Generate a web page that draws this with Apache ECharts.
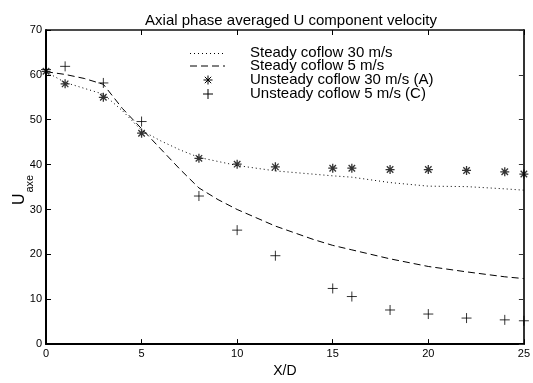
<!DOCTYPE html>
<html>
<head>
<meta charset="utf-8">
<script src="https://cdn.jsdelivr.net/npm/echarts@6/dist/echarts.min.js"></script>
<style>
html,body{margin:0;padding:0;background:#fff;}
#chart{width:533px;height:383px;}
</style>
</head>
<body>
<div id="chart"></div>
<script>
// Data
const xSteady30 = [0, 1, 2, 3, 4, 5, 6, 7, 8, 10, 12, 15, 16, 18, 20, 22, 24, 25];
const steady30  = [60.7, 58.3, 57.0, 55.7, 52.0, 47.6, 45.3, 43.3, 41.6, 39.8, 38.6, 37.5, 37.2, 36.0, 35.2, 35.1, 34.6, 34.3];
const xSteady5  = [0, 1, 2, 3, 4, 5, 6, 7, 8, 9, 10, 12, 14, 15, 16, 18, 20, 22, 24, 25];
const steady5   = [60.7, 60.1, 59.2, 57.9, 52.5, 48.0, 43.5, 39.0, 34.8, 32.2, 30.0, 26.3, 23.3, 22.0, 21.0, 19.0, 17.3, 16.1, 15.0, 14.6];
const xUnsteady = [0, 1, 3, 5, 8, 10, 12, 15, 16, 18, 20, 22, 24, 25];
const unsteady30A = [60.8, 58.0, 55.0, 47.0, 41.4, 40.1, 39.5, 39.2, 39.2, 38.9, 38.9, 38.7, 38.4, 37.9];
const unsteady5C  = [61.2, 61.9, 58.2, 49.6, 33.0, 25.4, 19.7, 12.4, 10.6, 7.6, 6.7, 5.8, 5.4, 5.2];
const xTicks = [0, 5, 10, 15, 20, 25];
const yTicks = [0, 10, 20, 30, 40, 50, 60, 70];
const legendNames = ['Steady coflow 30 m/s', 'Steady coflow 5 m/s', 'Unsteady coflow 30 m/s (A)', 'Unsteady coflow 5 m/s (C)'];
const titleText = 'Axial phase averaged U component velocity';

const FONT = '"Liberation Sans", Arial, Helvetica, sans-serif';
const pair = (xs, ys) => xs.map((x, i) => [x, ys[i]]);
const ASTERISK = 'path://M0,-5L0,5M-5,0L5,0M-3.6,-3.6L3.6,3.6M-3.6,3.6L3.6,-3.6';
const PLUS = 'path://M0,-5L0,5M-5,0L5,0';

const chart = echarts.init(document.getElementById('chart'), null, {renderer: 'canvas'});

const L = 46, R = 526, T = 30, B = 354;

const legendRows = [52.5, 66, 80, 94];
const legendGraphics = [];
legendNames.forEach((name, i) => {
  legendGraphics.push({
    type: 'text', x: 250, y: legendRows[i],
    style: {text: name, fontSize: 15, fontFamily: FONT, fill: '#000', align: 'left', verticalAlign: 'middle'}
  });
});
legendGraphics.push({type: 'line', shape: {x1: 190, y1: legendRows[0] + 1, x2: 225, y2: legendRows[0] + 1},
  style: {stroke: '#000', lineWidth: 1, lineDash: [1, 3]}});
legendGraphics.push({type: 'line', shape: {x1: 190, y1: legendRows[1], x2: 225, y2: legendRows[1]},
  style: {stroke: '#000', lineWidth: 1, lineDash: [7, 4]}});
[[0,-4.5,0,4.5],[-4.5,0,4.5,0],[-3.2,-3.2,3.2,3.2],[-3.2,3.2,3.2,-3.2]].forEach(s => {
  legendGraphics.push({type: 'line', shape: {x1: 208 + s[0], y1: legendRows[2] + s[1], x2: 208 + s[2], y2: legendRows[2] + s[3]},
    style: {stroke: '#000', lineWidth: 1}});
});
[[0,-5,0,5],[-5,0,5,0]].forEach(s => {
  legendGraphics.push({type: 'line', shape: {x1: 208 + s[0], y1: legendRows[3] + s[1], x2: 208 + s[2], y2: legendRows[3] + s[3]},
    style: {stroke: '#000', lineWidth: 1}});
});

const option = {
  animation: false,
  backgroundColor: '#fff',
  title: {
    text: titleText, left: (L + R) / 2, top: 8, textAlign: 'center',
    textStyle: {fontFamily: FONT, fontSize: 15, fontWeight: 'normal', color: '#000'}
  },
  grid: {left: L, right: 533 - R, top: T, bottom: 383 - B, containLabel: false},
  xAxis: [{
    type: 'value', min: 0, max: 25, interval: 5, position: 'bottom',
    name: 'X/D', nameLocation: 'middle', nameGap: 16,
    nameTextStyle: {fontFamily: FONT, fontSize: 14, color: '#000'},
    axisLine: {onZero: false, lineStyle: {color: '#000', width: 2}},
    axisTick: {inside: true, length: 5, lineStyle: {color: '#000', width: 1}},
    axisLabel: {fontFamily: FONT, fontSize: 11, color: '#000', margin: 4,
      formatter: v => xTicks.includes(v) ? String(v) : ''},
    splitLine: {show: false}
  }, {
    type: 'value', min: 0, max: 25, interval: 5, position: 'top',
    axisLine: {onZero: false, lineStyle: {color: '#111', width: 1.5}},
    axisTick: {inside: true, length: 5, lineStyle: {color: '#000', width: 1}},
    axisLabel: {show: false}, splitLine: {show: false}
  }],
  yAxis: [{
    type: 'value', min: 0, max: 70, interval: 10, position: 'left',
    axisLine: {onZero: false, lineStyle: {color: '#000', width: 2}},
    axisTick: {inside: true, length: 5, lineStyle: {color: '#000', width: 1}},
    axisLabel: {fontFamily: FONT, fontSize: 11, color: '#000', margin: 4,
      formatter: v => yTicks.includes(v) ? String(v) : ''},
    splitLine: {show: false}
  }, {
    type: 'value', min: 0, max: 70, interval: 10, position: 'right',
    axisLine: {onZero: false, lineStyle: {color: '#333', width: 2}},
    axisTick: {inside: true, length: 5, lineStyle: {color: '#333', width: 1}},
    axisLabel: {show: false}, splitLine: {show: false}
  }],
  graphic: [
    {
      type: 'group', x: 27.5, y: 205, rotation: Math.PI / 2,
      children: [
        {type: 'text', x: 0, y: 0, style: {text: 'U', fontSize: 16, fontFamily: FONT, fill: '#000', align: 'left', verticalAlign: 'bottom'}},
        {type: 'text', x: 12.5, y: 8, style: {text: 'axe', fontSize: 11, fontFamily: FONT, fill: '#000', align: 'left', verticalAlign: 'bottom'}}
      ]
    },
    ...legendGraphics
  ],
  series: [{
    name: legendNames[0], type: 'line', data: pair(xSteady30, steady30),
    showSymbol: false, symbol: 'none', smooth: false,
    lineStyle: {color: '#000', width: 1, type: [1, 3]}
  }, {
    name: legendNames[1], type: 'line', data: pair(xSteady5, steady5),
    showSymbol: false, symbol: 'none', smooth: false,
    lineStyle: {color: '#000', width: 1, type: [7, 4]}
  }, {
    name: legendNames[2], type: 'scatter', data: pair(xUnsteady, unsteady30A),
    symbol: ASTERISK, symbolSize: 9, clip: false,
    itemStyle: {color: 'none', borderColor: '#000', borderWidth: 1.3}
  }, {
    name: legendNames[3], type: 'scatter', data: pair(xUnsteady, unsteady5C),
    symbol: PLUS, symbolSize: 10, clip: false,
    itemStyle: {color: 'none', borderColor: '#000', borderWidth: 1}
  }]
};
chart.setOption(option);
</script>
</body>
</html>
